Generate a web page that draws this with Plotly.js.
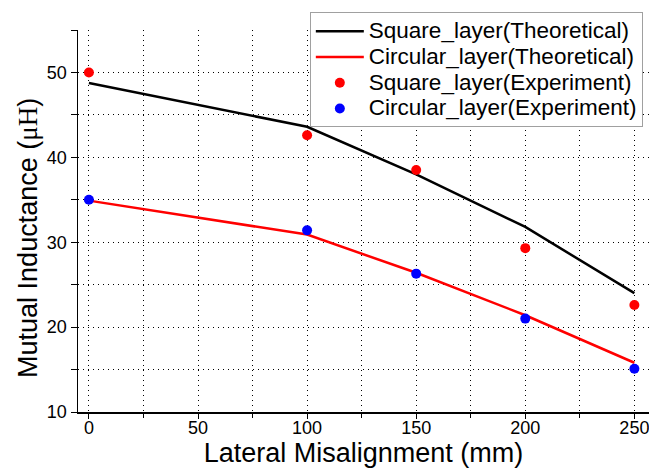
<!DOCTYPE html>
<html>
<head>
<meta charset="utf-8">
<script src="https://cdn.plot.ly/plotly-3.0.1.min.js"></script>
<style>html,body{margin:0;padding:0;background:#fff;}#chart{width:649px;height:468px;}</style>
</head>
<body>
<div id="chart"></div>
<script>
const misalignment = [0, 100, 150, 200, 250];
const squareTheoretical = [48.75, 43.6, 38.0, 31.8, 24.0];
const circularTheoretical = [34.9, 30.9, 26.4, 21.4, 15.8];
const squareExperiment = [50.0, 42.6, 38.5, 29.3, 22.6];
const circularExperiment = [35.0, 31.4, 26.3, 21.0, 15.1];
const seriesNames = ["Square_layer(Theoretical)", "Circular_layer(Theoretical)", "Square_layer(Experiment)", "Circular_layer(Experiment)"];

const FONT = "Liberation Sans, Arial, sans-serif";
const big = s => '<span style="font-size:22.5px">' + s + '</span>';
const traces = [
  {x: misalignment, y: squareTheoretical, name: big(seriesNames[0]), mode: "lines", line: {color: "#000000", width: 2.5}},
  {x: misalignment, y: circularTheoretical, name: big(seriesNames[1]), mode: "lines", line: {color: "#ff0000", width: 2.5}},
  {x: misalignment, y: squareExperiment, name: big(seriesNames[2]), mode: "markers", marker: {color: "#ff0000", size: 10}},
  {x: misalignment, y: circularExperiment, name: big(seriesNames[3]), mode: "markers", marker: {color: "#0000ff", size: 10}}
];

const gridDash = "1px,4px";
const layout = {
  width: 649, height: 468,
  margin: {l: 78, r: 0, t: 29.5, b: 56},
  paper_bgcolor: "#ffffff", plot_bgcolor: "#ffffff",
  font: {family: FONT, color: "#000000", size: 18},
  showlegend: true,
  legend: {
    x: 0.406, y: 1.046, xanchor: "left", yanchor: "top",
    bgcolor: "#ffffff", bordercolor: "#a0a0a0", borderwidth: 1,
    font: {family: FONT, size: 17.5, color: "#000000"},
    itemwidth: 48, tracegroupgap: 0
  },
  xaxis: {
    range: [-5, 256.7], tickmode: "array", tickvals: [0, 50, 100, 150, 200, 250],
    ticks: "outside", ticklen: 5, tickwidth: 1, tickcolor: "#000",
    ticklabeloverflow: "allow", ticklabelstandoff: -6,
    showline: true, linecolor: "#000", linewidth: 1.5,
    showgrid: true, gridcolor: "#000", gridwidth: 1, griddash: gridDash,
    minor: {tickvals: [25, 75, 125, 175, 225], ticks: "outside", ticklen: 4, tickcolor: "#000", showgrid: true, gridcolor: "#000", gridwidth: 1, griddash: gridDash},
    zeroline: false, mirror: false,
    tickfont: {family: FONT, size: 18, color: "#000"},
    title: {text: "Lateral Misalignment (mm)", font: {family: FONT, size: 27, color: "#000"}, standoff: 4}
  },
  yaxis: {
    range: [10, 55], tickmode: "array", tickvals: [10, 20, 30, 40, 50],
    ticks: "outside", ticklen: 6, tickwidth: 1, tickcolor: "#000",
    showline: true, linecolor: "#000", linewidth: 1.5,
    showgrid: true, gridcolor: "#000", gridwidth: 1, griddash: gridDash,
    minor: {tickvals: [15, 25, 35, 45, 55], ticks: "outside", ticklen: 6, tickcolor: "#000", showgrid: true, gridcolor: "#000", gridwidth: 1, griddash: gridDash},
    zeroline: false, mirror: false,
    tickfont: {family: FONT, size: 18, color: "#000"}
  },
  annotations: [{
    text: "Mutual Inductance (<span style=\"font-family:'Liberation Serif', 'Times New Roman', serif\">μH</span>)",
    xref: "paper", yref: "paper", x: -0.088, y: 0.455, xanchor: "center", yanchor: "middle",
    textangle: -90, showarrow: false, font: {family: FONT, size: 27, color: "#000"}
  }]
};
Plotly.newPlot("chart", traces, layout, {displayModeBar: false, staticPlot: true});
</script>
</body>
</html>
